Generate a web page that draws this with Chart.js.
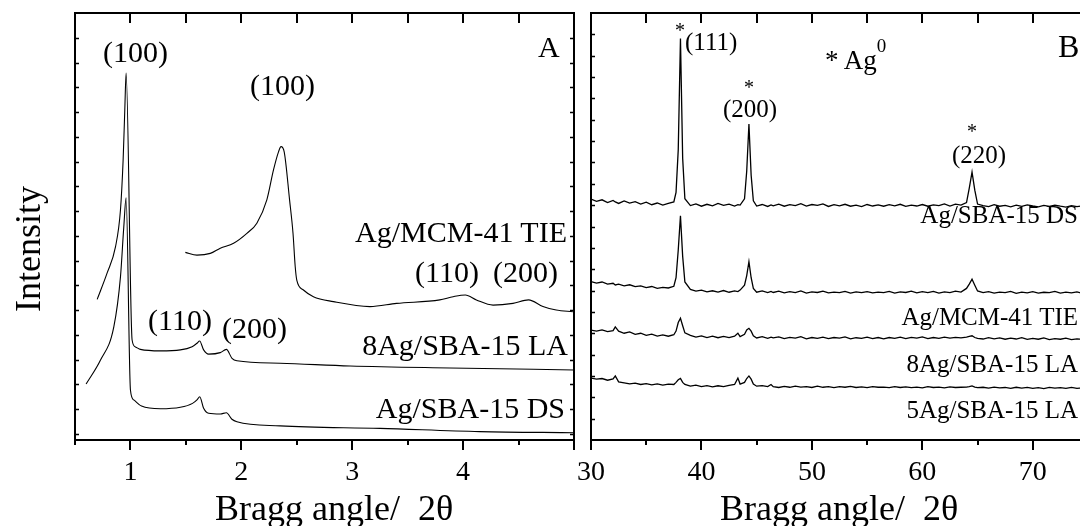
<!DOCTYPE html>
<html>
<head>
<meta charset="utf-8">
<script src="https://cdn.jsdelivr.net/npm/chart.js@4.4.1/dist/chart.umd.min.js"></script>
<style>
  html, body { margin: 0; padding: 0; background: #fff; }
  body { width: 1080px; height: 526px; overflow: hidden; position: relative;
         font-family: "Liberation Serif", "Times New Roman", serif; color: #000; }
  .panel { position: absolute; top: 0; height: 526px; }
  .lbl { position: absolute; line-height: 1; white-space: pre; font-size: 30px; }
  .sm { font-size: 25px; }
  .star { font-size: 20px; }
  .title { font-size: 36px; }
</style>
</head>
<body>
<div class="panel" style="left:0;width:600px"><canvas id="chartA" width="600" height="526"></canvas></div>
<div class="panel" style="left:560px;width:620px"><canvas id="chartB" width="620" height="526"></canvas></div>

<!-- panel A texts -->
<div class="lbl" style="left:103px;top:37px">(100)</div>
<div class="lbl" style="left:250px;top:70px">(100)</div>
<div class="lbl" style="left:538px;top:32px">A</div>
<div class="lbl" style="right:513px;top:217px">Ag/MCM-41 TIE</div>
<div class="lbl" style="left:415px;top:257px">(110)</div>
<div class="lbl" style="left:493px;top:257px">(200)</div>
<div class="lbl" style="right:512px;top:330px">8Ag/SBA-15 LA</div>
<div class="lbl" style="right:515px;top:393px">Ag/SBA-15 DS</div>
<div class="lbl" style="left:148px;top:305px">(110)</div>
<div class="lbl" style="left:222px;top:313px">(200)</div>

<!-- panel B texts -->
<div class="lbl star" style="left:675px;top:20px">*</div>
<div class="lbl sm" style="left:685px;top:29px">(111)</div>
<div class="lbl star" style="left:744px;top:77px">*</div>
<div class="lbl sm" style="left:723px;top:96px">(200)</div>
<div class="lbl star" style="left:967px;top:121px">*</div>
<div class="lbl sm" style="left:952px;top:142px">(220)</div>
<div class="lbl" style="left:825px;top:47px;font-size:27px">* Ag<span style="font-size:19px;position:relative;top:-17px">0</span></div>
<div class="lbl" style="left:1058px;top:30px;font-size:32px">B</div>
<div class="lbl sm" style="right:2px;top:202px">Ag/SBA-15 DS</div>
<div class="lbl sm" style="right:2px;top:304px">Ag/MCM-41 TIE</div>
<div class="lbl sm" style="right:2px;top:351px">8Ag/SBA-15 LA</div>
<div class="lbl sm" style="right:2px;top:397px">5Ag/SBA-15 LA</div>

<!-- axis titles -->
<div class="lbl title" style="left:215px;top:490px">Bragg angle/  2θ</div>
<div class="lbl title" style="left:720px;top:490px">Bragg angle/  2θ</div>
<div class="lbl title" style="left:28px;top:249px;transform:translate(-50%,-50%) rotate(-90deg)">Intensity</div>

<script>
// tick labels
const panelATicks = [1, 2, 3, 4];
const panelBTicks = [30, 40, 50, 60, 70];

// panel A, low angle patterns
const tieLowAngle = [1.495, 1.60, 1.72, 1.81, 1.93, 2.05, 2.14, 2.23, 2.29, 2.336, 2.358, 2.387, 2.435, 2.466, 2.486,
  2.50, 2.56, 2.65, 2.83, 3.16, 3.40, 3.79, 3.91, 4.02, 4.12, 4.27, 4.45, 4.59, 4.72, 4.84, 4.99];
const tieLowI = [7.33, 7.22, 7.29, 7.50, 7.70, 8.10, 8.51, 9.45, 10.66, 11.4, 11.6, 11.38, 9.45, 8.10, 6.75,
  6.21, 5.81, 5.54, 5.34, 5.14, 5.27, 5.41, 5.54, 5.61, 5.41, 5.20, 5.27, 5.41, 5.14, 5.00, 4.93];

const laLowAngle = [0.70, 0.79, 0.865, 0.91, 0.934, 0.949, 0.961, 1.015, 1.045, 1.09, 1.27, 1.45, 1.556, 1.60,
  1.624, 1.66, 1.705, 1.81, 1.865, 1.916, 1.96, 2.35, 2.98, 3.88, 5.0];
const laLowI = [5.43, 6.50, 7.55, 9.04, 11.06, 13.08, 14.57, 3.79, 3.51, 3.41, 3.35, 3.39, 3.52, 3.66,
  3.75, 3.39, 3.22, 3.28, 3.41, 3.05, 2.95, 2.85, 2.74, 2.66, 2.58];

const dsLowAngle = [0.60, 0.73, 0.85, 0.91, 0.94, 0.961, 1.0, 1.03, 1.1, 1.27, 1.45, 1.56, 1.60, 1.625, 1.66,
  1.705, 1.81, 1.865, 1.915, 1.96, 2.35, 3.25, 4.15, 5.0];
const dsLowI = [2.01, 2.98, 4.32, 6.34, 8.36, 9.53, 1.77, 1.37, 1.12, 1.01, 1.07, 1.23, 1.37, 1.50, 1.03,
  0.83, 0.80, 0.85, 0.59, 0.49, 0.32, 0.22, 0.09, 0.045];

// panel B, wide angle patterns (shared angle list)
const wideAngle = [
  30, 30.5, 31, 31.5, 32, 32.2, 32.5, 33, 33.5, 34,
  34.5, 35, 35.5, 36, 36.5, 37, 37.5, 37.7, 37.9, 38.1, 38.3, 38.5,
  39, 39.5, 40, 40.5, 41, 41.5, 42, 42.5, 43, 43.3,
  43.5, 43.9, 44.1, 44.3, 44.5, 44.7, 45, 45.5, 46, 46.3,
  46.5, 47, 47.5, 48, 48.5, 49, 49.5, 50, 50.5, 51, 51.5, 52, 52.5, 53, 53.5, 54, 54.5, 55, 55.5, 56,
  56.5, 57, 57.5, 58, 58.5, 59, 59.5, 60, 60.5, 61, 61.5, 62, 62.5, 63, 63.5, 64, 64.25, 64.5, 64.75, 65,
  65.5, 66, 66.5, 67, 67.5, 68, 68.5, 69, 69.5, 70, 70.5, 71, 71.5, 72, 72.5, 73, 73.5, 74, 74.5, 75];

const dsWideI = [
  11.28, 11.18, 11.25, 11.12, 11.22, 11.15, 11.08, 11.2, 11.1, 11.16,
  11.05, 11.14, 11.02, 11.1, 11.0, 11.08, 11.15, 11.6, 13.6, 18.8, 13.2, 11.3,
  10.98, 11.06, 10.95, 11.04, 10.97, 11.08, 10.99, 11.05, 10.96, 11.02,
  11.0, 11.3, 12.6, 14.8, 12.4, 11.2, 10.96, 11.03, 10.94, 11.01,
  10.97, 11.05, 10.95, 11.02, 10.98, 11.07, 10.96, 11.03, 10.99, 11.06, 10.94, 11.02, 10.97, 11.04, 10.95, 11.0, 10.93, 11.03, 10.96, 11.01,
  10.95, 11.02, 10.97, 11.04, 10.94, 11.0, 10.96, 11.03, 10.95, 11.01, 10.98, 11.06, 10.96, 11.05, 11.0, 11.12, 11.8, 12.55, 11.7, 11.05,
  10.98, 10.93, 11.02, 10.95, 10.99, 10.92, 11.0, 10.94, 11.01, 10.96, 10.92, 10.99, 10.94, 11.0, 10.95, 10.91, 10.98, 10.93, 10.97, 10.92];

const tieWideI = [
  7.42, 7.35, 7.4, 7.3, 7.34, 7.26, 7.3, 7.22, 7.27, 7.18,
  7.22, 7.14, 7.19, 7.1, 7.15, 7.12, 7.2, 7.6, 8.9, 10.5, 8.6, 7.4,
  7.05, 6.97, 7.02, 6.94, 6.99, 6.93, 7.0, 6.92, 6.98, 6.95,
  7.02, 7.25, 7.7, 8.35, 7.6, 7.1, 6.92, 6.98, 6.9, 6.96,
  6.91, 6.97, 6.89, 6.95, 6.9, 6.98, 6.88, 6.94, 6.91, 6.97, 6.89, 6.93, 6.9, 6.96, 6.88, 6.94, 6.9, 6.95, 6.89, 6.93,
  6.9, 6.96, 6.88, 6.94, 6.91, 6.97, 6.89, 6.95, 6.9, 6.96, 6.88, 6.94, 6.9, 6.97, 6.93, 7.1, 7.3, 7.53, 7.25, 6.98,
  6.9, 6.95, 6.88, 6.93, 6.9, 6.96, 6.87, 6.93, 6.89, 6.95, 6.88, 6.92, 6.9, 6.96, 6.88, 6.93, 6.89, 6.94, 6.87, 6.92];

const la8WideI = [
  5.15, 5.1, 5.16, 5.08, 5.12, 5.3, 5.1, 5.0, 5.06, 4.95,
  5.0, 4.9, 4.96, 4.87, 4.92, 4.86, 4.93, 5.1, 5.5, 5.7, 5.35, 5.02,
  4.9, 4.82, 4.88, 4.8, 4.86, 4.79, 4.85, 4.8, 4.86, 5.0,
  4.84, 4.95, 5.15, 5.23, 5.1, 4.88, 4.78, 4.84, 4.76, 4.82,
  4.78, 4.83, 4.75, 4.81, 4.77, 4.84, 4.74, 4.8, 4.76, 4.82, 4.75, 4.8, 4.77, 4.83, 4.74, 4.79, 4.76, 4.82, 4.75, 4.8,
  4.74, 4.8, 4.76, 4.82, 4.75, 4.81, 4.77, 4.83, 4.75, 4.8, 4.76, 4.82, 4.77, 4.81, 4.78, 4.82, 4.85, 4.88, 4.8, 4.76,
  4.73, 4.79, 4.74, 4.78, 4.72, 4.77, 4.73, 4.79, 4.71, 4.76, 4.72, 4.78, 4.7, 4.75, 4.72, 4.77, 4.7, 4.74, 4.71, 4.76];

const la5WideI = [
  2.9, 2.85, 2.88, 2.8, 2.86, 3.0, 2.72, 2.68, 2.63, 2.66,
  2.6, 2.64, 2.58, 2.63, 2.57, 2.62, 2.6, 2.7, 2.82, 2.88, 2.7, 2.6,
  2.52, 2.57, 2.5, 2.55, 2.49, 2.54, 2.5, 2.56, 2.6, 2.9,
  2.62, 2.7, 2.88, 3.0, 2.85, 2.62, 2.52, 2.55, 2.5, 2.6,
  2.5, 2.46, 2.51, 2.47, 2.52, 2.48, 2.5, 2.46, 2.52, 2.47, 2.5, 2.45, 2.5, 2.47, 2.51, 2.46, 2.49, 2.45, 2.5, 2.47,
  2.48, 2.45, 2.5, 2.46, 2.49, 2.45, 2.48, 2.44, 2.5, 2.46, 2.48, 2.44, 2.49, 2.46, 2.47, 2.48, 2.5, 2.53, 2.48, 2.45,
  2.47, 2.43, 2.48, 2.44, 2.46, 2.42, 2.47, 2.43, 2.46, 2.42, 2.45, 2.41, 2.46, 2.43, 2.45, 2.42, 2.46, 2.42, 2.44, 2.41];

const toPts = (xs, ys) => xs.map((x, i) => ({ x: x, y: ys[i] }));

// frame box + inward/outward tick marks, like the Origin style of the original
const frameTicks = {
  id: 'frameTicks',
  afterDraw(chart, args, opts) {
    const { ctx, chartArea: a, scales: { x, y } } = chart;
    ctx.save();
    ctx.strokeStyle = '#000';
    ctx.lineWidth = 2;
    ctx.strokeRect(a.left, a.top, a.right - a.left, a.bottom - a.top);
    ctx.beginPath();
    for (let v = x.min; v <= x.max + 1e-9; v += opts.xMinor) {
      const px = Math.round(x.getPixelForValue(v));
      const r = v / opts.xMajor;
      const major = Math.abs(r - Math.round(r)) < 1e-6;
      ctx.moveTo(px, a.bottom);
      ctx.lineTo(px, a.bottom + (major ? 10 : 5));
      ctx.moveTo(px, a.top);
      ctx.lineTo(px, a.top + 10);
    }
    ctx.stroke();
    ctx.lineWidth = 1.5;
    ctx.beginPath();
    for (let v = opts.yFrom; v < y.max - 1e-9; v += 1) {
      const py = Math.round(y.getPixelForValue(v)) + 0.5;
      ctx.moveTo(a.left, py);
      ctx.lineTo(a.left + 4, py);
      ctx.moveTo(a.right, py);
      ctx.lineTo(a.right - 4, py);
    }
    ctx.stroke();
    ctx.restore();
  }
};

function xAxis(min, max, labels) {
  return {
    type: 'linear',
    min: min,
    max: max,
    grid: { display: false, drawTicks: false },
    border: { display: false },
    afterBuildTicks: (s) => { s.ticks = labels.map((v) => ({ value: v })); },
    afterFit: (s) => { s.height = 86; },
    ticks: {
      autoSkip: false, maxRotation: 0, minRotation: 0, padding: 16, color: '#000',
      font: { family: '"Liberation Serif", "Times New Roman", serif', size: 28 }
    }
  };
}

function line(xs, ys, smooth, width) {
  return {
    data: toPts(xs, ys),
    borderColor: '#000',
    borderWidth: width,
    pointRadius: 0,
    cubicInterpolationMode: smooth ? 'monotone' : 'default',
    tension: 0
  };
}

new Chart(document.getElementById('chartA'), {
  type: 'line',
  data: {
    datasets: [
      line(tieLowAngle, tieLowI, true, 1.1),
      line(laLowAngle, laLowI, true, 1.1),
      line(dsLowAngle, dsLowI, true, 1.1)
    ]
  },
  options: {
    responsive: false,
    animation: false,
    devicePixelRatio: 1,
    layout: { padding: { left: 75, right: 26, top: 13, bottom: 0 } },
    plugins: {
      legend: { display: false },
      tooltip: { enabled: false },
      frameTicks: { xMajor: 1, xMinor: 0.5, yFrom: 0 }
    },
    scales: {
      x: xAxis(0.5, 5, panelATicks),
      y: { type: 'linear', display: false, min: -0.25, max: 17 }
    }
  },
  plugins: [frameTicks]
});

new Chart(document.getElementById('chartB'), {
  type: 'line',
  data: {
    datasets: [
      line(wideAngle, dsWideI, false, 1.3),
      line(wideAngle, tieWideI, false, 1.3),
      line(wideAngle, la8WideI, false, 1.3),
      line(wideAngle, la5WideI, false, 1.3)
    ]
  },
  options: {
    responsive: false,
    animation: false,
    devicePixelRatio: 1,
    layout: { padding: { left: 31, right: 92, top: 13, bottom: 0 } },
    plugins: {
      legend: { display: false },
      tooltip: { enabled: false },
      frameTicks: { xMajor: 10, xMinor: 5, yFrom: 1 }
    },
    scales: {
      x: xAxis(30, 75, panelBTicks),
      y: { type: 'linear', display: false, min: 0, max: 20 }
    }
  },
  plugins: [frameTicks]
});
</script>
</body>
</html>
